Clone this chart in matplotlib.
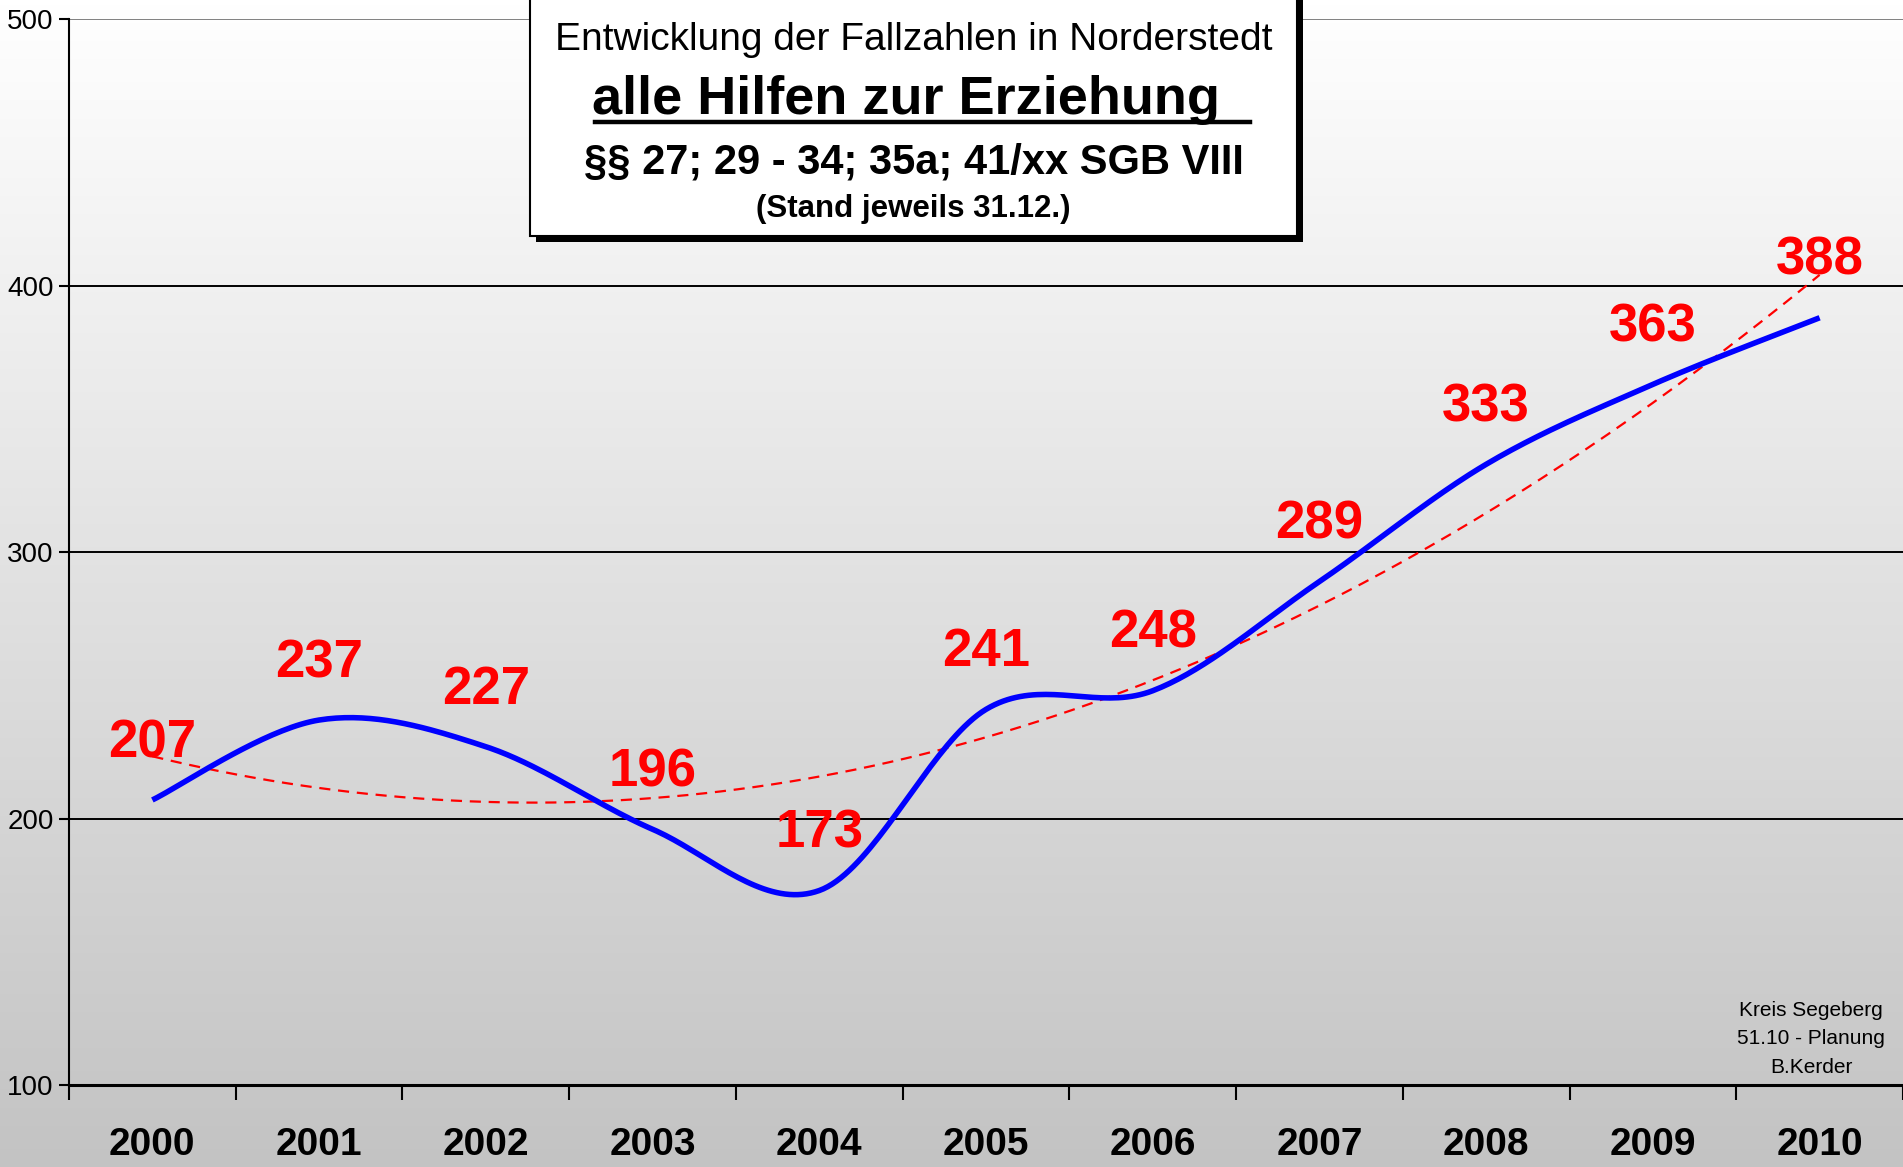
import numpy as np
import matplotlib
matplotlib.use("Agg")
import matplotlib.pyplot as plt
from matplotlib.patches import Rectangle
from matplotlib.lines import Line2D

# ---------------- data ----------------
years = ["2000", "2001", "2002", "2003", "2004", "2005", "2006", "2007", "2008", "2009", "2010"]
cases = [207, 237, 227, 196, 173, 241, 248, 289, 333, 363, 388]
y_ticks = [100, 200, 300, 400, 500]
title_lines = ["Entwicklung der Fallzahlen in Norderstedt",
               "alle Hilfen zur Erziehung ",
               "§§ 27; 29 - 34; 35a; 41/xx SGB VIII",
               "(Stand jeweils 31.12.)"]
credit = "Kreis Segeberg\n51.10 - Planung\nB.Kerder"

FONT = ["Liberation Sans", "DejaVu Sans"]
plt.rcParams["font.family"] = FONT

W, H = 1903, 1167
fig = plt.figure(figsize=(W / 100, H / 100), dpi=100)

def fx(px):
    return px / W

def fy(py):
    return 1 - py / H

# background gradient over whole figure
bg = fig.add_axes([0, 0, 1, 1], zorder=-10)
grad = np.linspace(1.0, 0.765, 256).reshape(-1, 1)
bg.imshow(np.dstack([grad, grad, grad]), aspect="auto", extent=[0, 1, 0, 1], origin="upper")
bg.set_axis_off()

ax = fig.add_axes([fx(69), fy(1085), fx(1903) - fx(69), fy(19.4) - fy(1085)])
ax.patch.set_alpha(0)

x = np.arange(len(cases), dtype=float)
y = np.array(cases, dtype=float)

# Excel-like smoothed line (Catmull-Rom / Bezier rendering)
def smooth(xs, ys, n=40):
    P = np.column_stack([xs, ys])
    ext = np.vstack([P[0], P, P[-1]])
    out = []
    t = np.linspace(0, 1, n)
    for i in range(1, len(ext) - 2):
        p0, p1, p2, p3 = ext[i - 1], ext[i], ext[i + 1], ext[i + 2]
        c1 = p1 + (p2 - p0) / 6
        c2 = p2 - (p3 - p1) / 6
        seg = ((1 - t) ** 3)[:, None] * p1 + (3 * (1 - t) ** 2 * t)[:, None] * c1 \
            + (3 * (1 - t) * t ** 2)[:, None] * c2 + (t ** 3)[:, None] * p2
        out.append(seg if i == 1 else seg[1:])
    return np.vstack(out)

curve = smooth(x, y)
ax.plot(curve[:, 0], curve[:, 1], color="#0000ff", lw=4.0, solid_capstyle="butt", zorder=4)

# polynomial (2nd order) trendline as in the source chart
coef = np.polyfit(x, y, 2)
xt = np.linspace(x[0], x[-1], 300)
ax.plot(xt, np.polyval(coef, xt), color="#ff0000", lw=1.6, ls=(0, (5, 3.5)), zorder=3)

# value labels
for xi, yi in zip(x, cases):
    ax.annotate(str(yi), (xi, yi), xytext=(0, 41), textcoords="offset points",
                ha="center", va="center", color="#ff0000", fontsize=38,
                fontweight="bold", zorder=5)

ax.set_xlim(-0.5, len(cases) - 0.5)
ax.set_ylim(y_ticks[0], y_ticks[-1])

# grid
for v in y_ticks[1:-1]:
    ax.axhline(v, color="black", lw=1.4, zorder=1)
ax.axhline(y_ticks[-1], color="#808080", lw=1.4, zorder=1)

for s in ["top", "right"]:
    ax.spines[s].set_visible(False)
ax.spines["bottom"].set_linewidth(2.2)
ax.spines["left"].set_linewidth(1.5)

ax.set_yticks(y_ticks)
ax.set_yticklabels([str(v) for v in y_ticks], fontsize=20)
ax.tick_params(axis="y", length=7, width=1.5, pad=4, direction="out")

ax.set_xticks(x)
ax.set_xticklabels(years, fontsize=28, fontweight="bold")
ax.tick_params(axis="x", which="major", length=0, pad=30)
ax.set_xticks(np.arange(-0.5, len(cases) + 0.5, 1.0), minor=True)
ax.tick_params(axis="x", which="minor", length=11, width=1.5, direction="out")

# credit text
fig.text(fx(1811), fy(1039), credit, ha="center", va="center", fontsize=15,
         linespacing=1.65)

# title box with shadow
bx0, bx1, by0, by1 = 530, 1297, -10, 236
fig.patches.append(Rectangle((fx(bx0 + 6), fy(by1 + 6)), fx(bx1 - bx0), fy(by0) - fy(by1),
                             transform=fig.transFigure, facecolor="black", edgecolor="none",
                             zorder=20))
fig.patches.append(Rectangle((fx(bx0), fy(by1)), fx(bx1 - bx0), fy(by0) - fy(by1),
                             transform=fig.transFigure, facecolor="white", edgecolor="black",
                             lw=1.5, zorder=21))
cx = (bx0 + bx1) / 2
fig.text(fx(cx), fy(40), title_lines[0], ha="center", va="center", fontsize=28, zorder=22)
fig.text(fx(cx), fy(100), title_lines[1], ha="center", va="center", fontsize=39,
         fontweight="bold", zorder=22)
fig.add_artist(Line2D([fx(595), fx(1250)], [fy(122), fy(122)], color="black", lw=3.2,
                      transform=fig.transFigure, zorder=22))
fig.text(fx(cx), fy(163), title_lines[2], ha="center", va="center", fontsize=30,
         fontweight="bold", zorder=22)
fig.text(fx(cx), fy(209), title_lines[3], ha="center", va="center", fontsize=22.5,
         fontweight="bold", zorder=22)

fig.savefig("out.png", dpi=100)
